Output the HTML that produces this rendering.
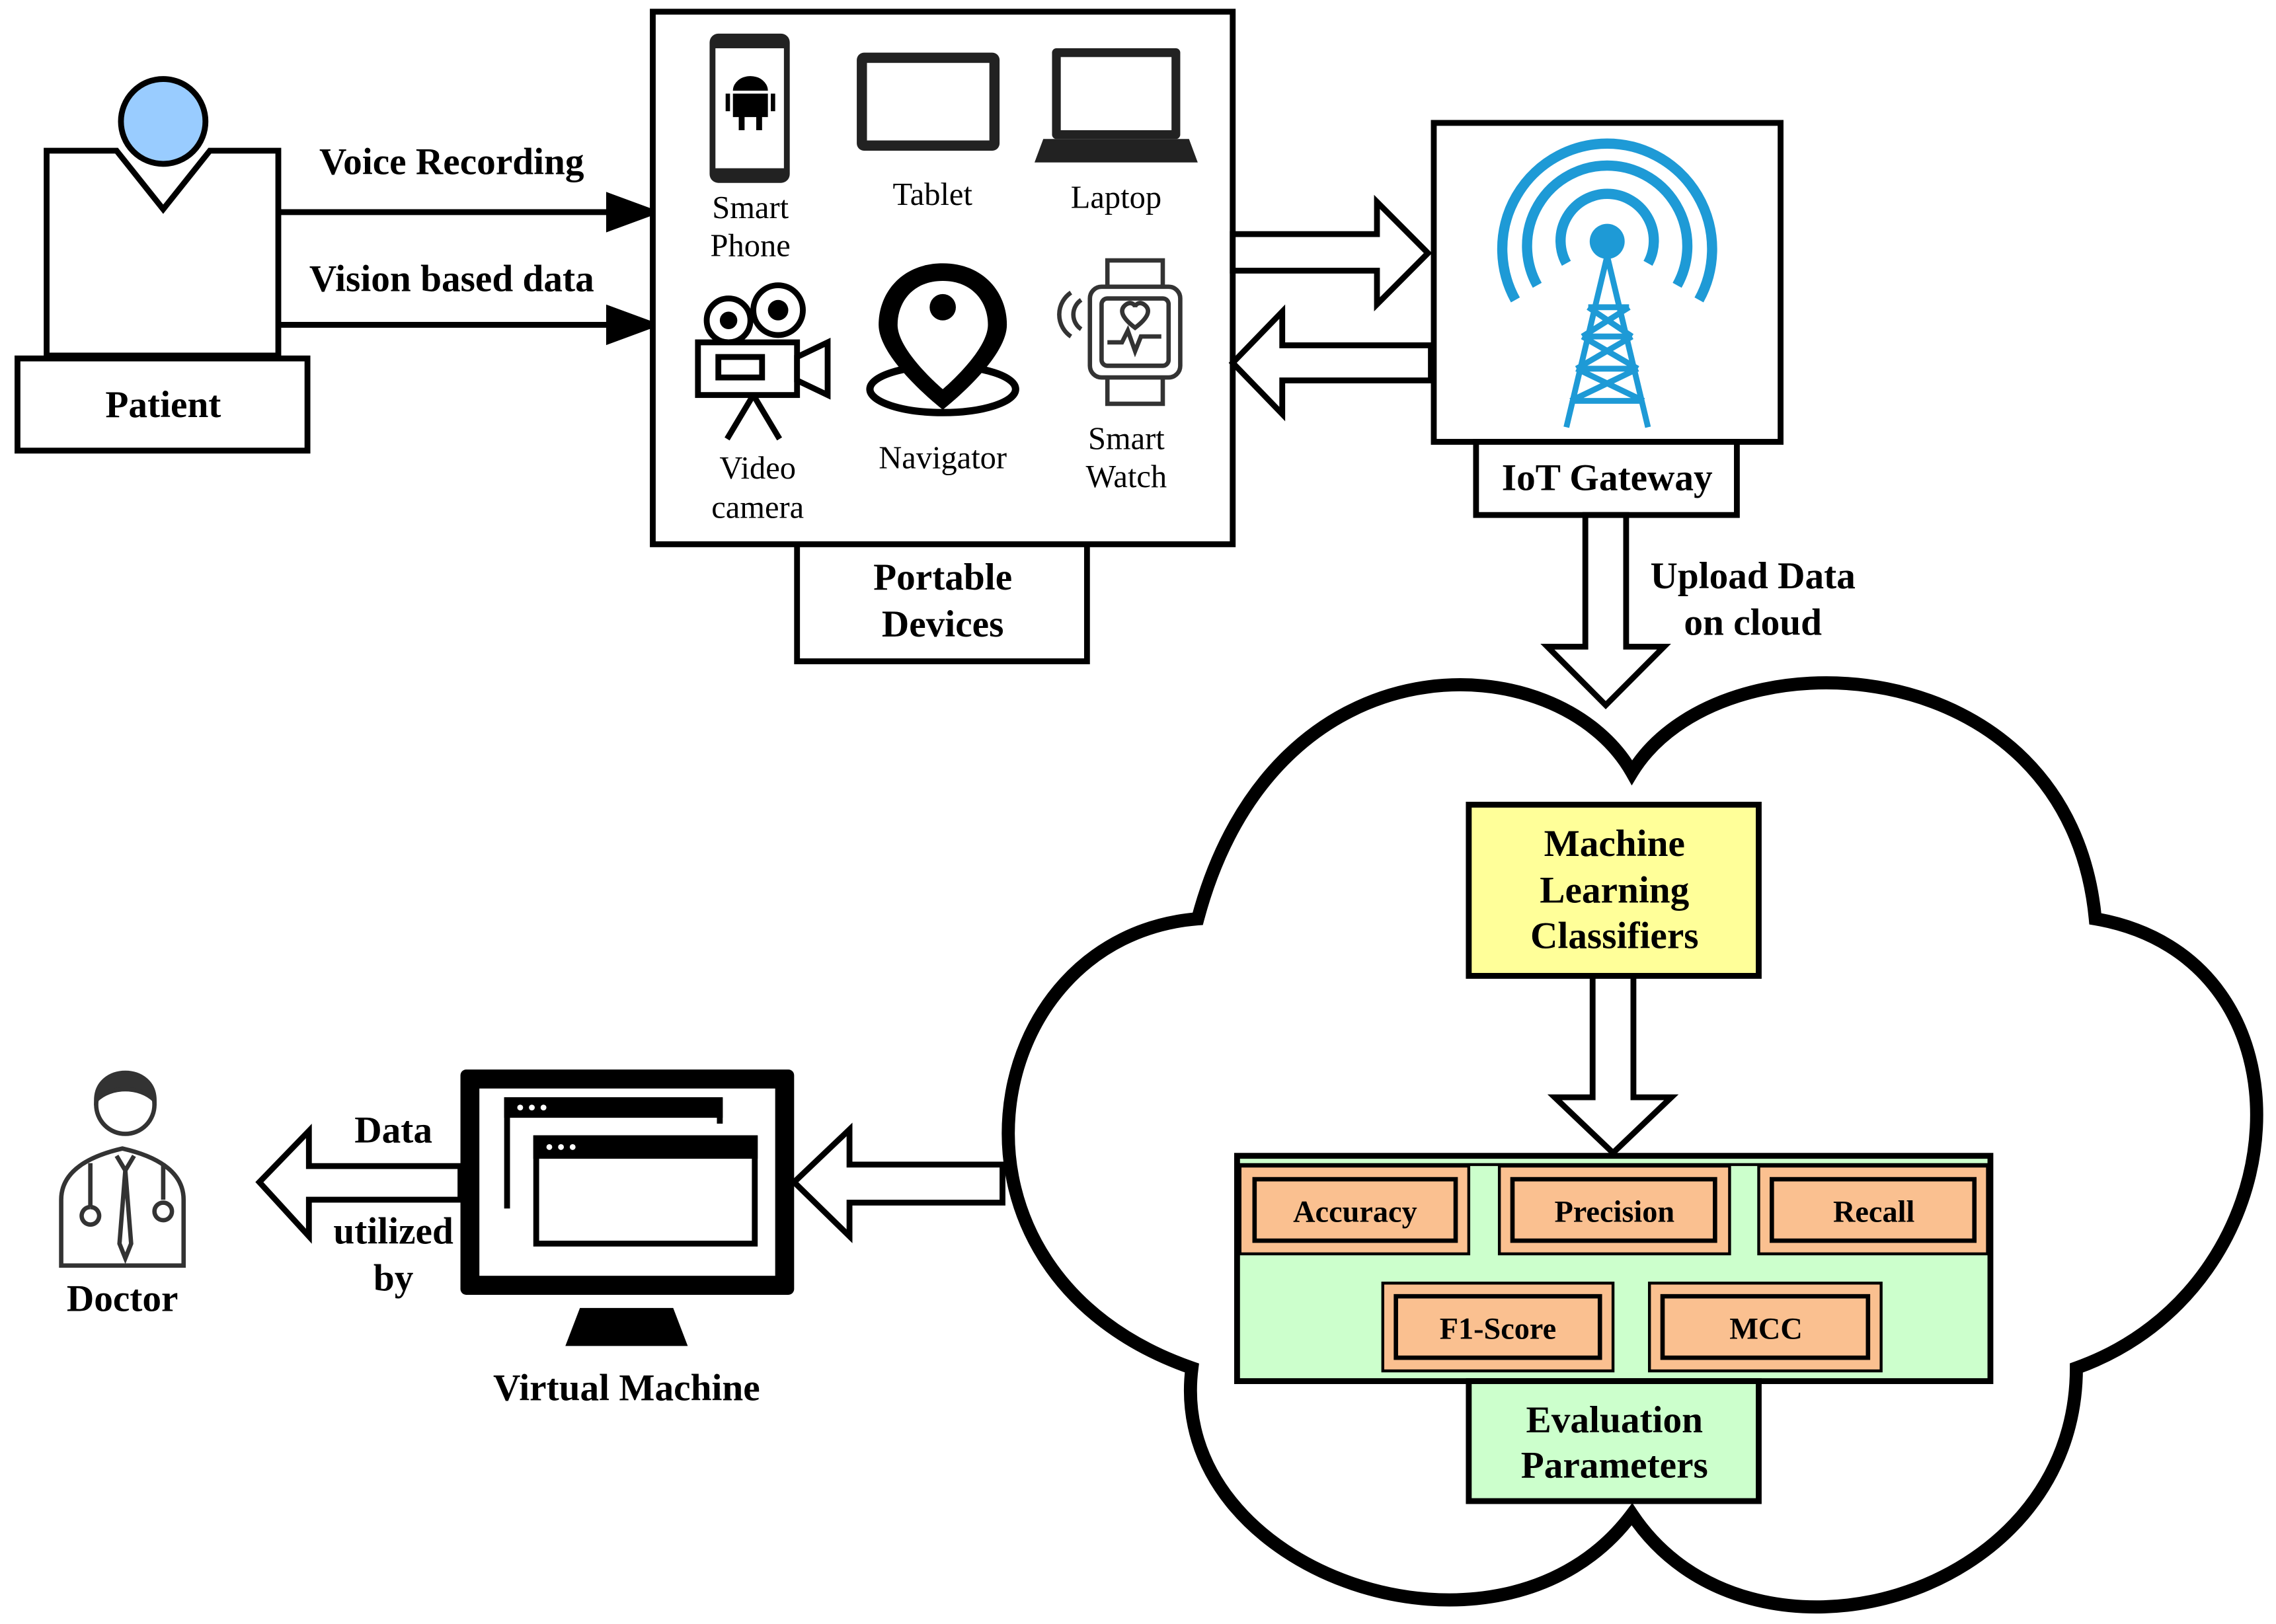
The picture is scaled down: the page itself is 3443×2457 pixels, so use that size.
<!DOCTYPE html>
<html><head><meta charset="utf-8"><style>
html,body{margin:0;padding:0;background:#fff}
svg{display:block}
text{font-family:"Liberation Serif",serif}
</style></head><body>
<svg width="3443" height="2457" viewBox="0 0 1562 1110" preserveAspectRatio="none" xmlns="http://www.w3.org/2000/svg">
<rect width="1562" height="1110" fill="#fff"/>
<g stroke="#000" stroke-width="4" fill="none">
<polygon points="32,103 80,103 112,143 144,103 191,103 191,243 32,243" fill="#fff"/>
<circle cx="112" cy="83" r="29" fill="#99ccff"/>
<rect x="12" y="245" width="199" height="63" fill="#fff"/>
<line x1="191" y1="145" x2="420" y2="145"/>
<polygon points="418,134 448,145 418,156" fill="#000"/>
<line x1="191" y1="222" x2="420" y2="222"/>
<polygon points="418,211 448,222 418,233" fill="#000"/>
<rect x="448" y="8" width="398" height="364" fill="#fff"/>
<rect x="547" y="372" width="199" height="80" fill="#fff"/>
<polygon points="846,160 945,160 945,138 980,173 945,208 945,185 846,185" fill="#fff"/>
<polygon points="982,236 880,236 880,213 846,248 880,283 880,260 982,260" fill="#fff"/>
<rect x="984" y="84" width="238" height="218" fill="#fff"/>
<rect x="1013" y="302" width="179" height="50" fill="#fff"/>
<polygon points="1088,352 1116,352 1116,442 1142,442 1102,482 1062,442 1088,442" fill="#fff"/>
<path d="M1120,528 C1070,440 875,430 822,628 C670,640 630,870 818,935 C800,1075 1030,1155 1120,1035 C1200,1155 1425,1095 1425,935 C1580,880 1595,655 1438,628 C1420,440 1180,430 1120,528 Z" stroke-width="9" fill="#fff"/>
<rect x="1008" y="550" width="199" height="117" fill="#ffff99"/>
<polygon points="1093,667 1121,667 1121,750 1147,750 1107,788 1067,750 1093,750" fill="#fff"/>
<rect x="849" y="790" width="517" height="154" fill="#ccffcc"/>
<line x1="849" y1="796" x2="1366" y2="796" stroke-width="2"/>
<g fill="#fac090" stroke-width="2">
<rect x="851" y="797" width="157" height="60"/><rect x="861" y="806" width="138" height="42" stroke-width="3"/>
<rect x="1029" y="797" width="158" height="60"/><rect x="1038" y="806" width="139" height="42" stroke-width="3"/>
<rect x="1207" y="797" width="157" height="60"/><rect x="1216" y="806" width="139" height="42" stroke-width="3"/>
<rect x="949" y="877" width="158" height="60"/><rect x="958" y="886" width="140" height="42" stroke-width="3"/>
<rect x="1132" y="877" width="159" height="60"/><rect x="1141" y="886" width="141" height="42" stroke-width="3"/>
</g>
<rect x="1008" y="944" width="199" height="82" fill="#ccffcc"/>
<polygon points="688,796 583,796 583,772 545,808 583,845 583,822 688,822" fill="#fff"/>
<polygon points="316,797 212,797 212,773 178,808 212,845 212,820 316,820" fill="#fff"/>
</g>
<rect x="316" y="731" width="229" height="154" rx="4" fill="#000"/>
<rect x="329" y="744" width="203" height="128" fill="#fff"/>
<g stroke="#000" stroke-width="4" fill="#fff">
<path d="M348,826 V752 H494 V768"/>
<rect x="368" y="778" width="150" height="72"/>
</g>
<rect x="346" y="750" width="150" height="14" fill="#000"/>
<rect x="366" y="776" width="154" height="16" fill="#000"/>
<g fill="#fff"><circle cx="357" cy="757" r="2"/><circle cx="365" cy="757" r="2"/><circle cx="373" cy="757" r="2"/><circle cx="377" cy="784" r="2"/><circle cx="385" cy="784" r="2"/><circle cx="393" cy="784" r="2"/></g>
<polygon points="398,894 462,894 472,920 388,920" fill="#000"/>
<rect x="487" y="23" width="55" height="102" rx="6" fill="#222"/>
<rect x="491" y="33" width="47" height="82" fill="#fff"/>
<path d="M503,62 a12,10 0 0 1 24,0z M503,64 h24 v16 h-24z M498,64 h3 v12 h-3z M529,64 h3 v12 h-3z M507,80 h4 v9 h-4z M519,80 h4 v9 h-4z" fill="#000"/>
<rect x="588" y="36" width="98" height="67" rx="5" fill="#222"/>
<rect x="595" y="43" width="84" height="53" fill="#fff"/>
<rect x="722" y="33" width="88" height="62" rx="3" fill="#222"/>
<rect x="728" y="39" width="76" height="50" fill="#fff"/>
<path d="M716,95 h100 l6,16 h-112z" fill="#222"/>
<g stroke="#000" stroke-width="4" fill="#fff">
<circle cx="500" cy="219" r="15"/><circle cx="534" cy="212" r="17"/>
<rect x="479" y="234" width="68" height="36"/>
<polygon points="547,244 568,234 568,270 547,260"/>
<rect x="493" y="244" width="30" height="14"/>
<path d="M517,270 l-18,30 M517,270 l18,30" fill="none"/>
</g>
<circle cx="500" cy="219" r="6"/><circle cx="534" cy="212" r="7"/>
<ellipse cx="647" cy="266" rx="50" ry="16" stroke="#000" stroke-width="5" fill="none"/>
<path d="M647,180 c-28,0 -44,20 -44,42 c0,24 44,58 44,58 c0,0 44,-34 44,-58 c0,-22 -16,-42 -44,-42z" fill="#000"/>
<path d="M647,192 c-20,0 -31,14 -31,30 c0,18 31,44 31,44 c0,0 31,-26 31,-44 c0,-16 -11,-30 -31,-30z" fill="#fff"/>
<circle cx="647" cy="210" r="9"/>
<g stroke="#333" stroke-width="3" fill="#fff">
<rect x="760" y="178" width="38" height="20"/><rect x="760" y="256" width="38" height="20"/>
<rect x="748" y="196" width="62" height="62" rx="8"/>
<rect x="756" y="204" width="46" height="46" rx="4"/>
<path d="M760,234 h10 l4,-8 l5,14 l4,-10 h14" fill="none"/>
<path d="M779,224 c-8,-6 -12,-12 -6,-16 c3,-2 6,0 6,2 c0,-2 3,-4 6,-2 c6,4 2,10 -6,16z"/>
<path d="M742,205 a12,12 0 0 0 0,20 M735,200 a18,18 0 0 0 0,30" fill="none"/>
</g>
<g stroke="#1e9ad6" fill="none">
<path d="M1055,195 A55,55 0 1 1 1151,195" stroke-width="7"/>
<path d="M1040,205 A72,72 0 1 1 1166,205" stroke-width="7"/>
<path d="M1075,180 A32,32 0 1 1 1131,180" stroke-width="7"/>
<path d="M1103,175 L1075,292 M1103,175 L1131,292 M1090,210 L1118,210 M1086,230 L1120,230 M1082,252 L1124,252 M1078,274 L1128,274 M1090,210 L1120,230 M1118,210 L1086,230 M1086,230 L1124,252 M1120,230 L1082,252 M1082,252 L1128,274 M1124,252 L1078,274" stroke-width="4"/>
</g>
<circle cx="1103" cy="165" r="12" fill="#1e9ad6"/>
<g stroke="#333" stroke-width="3" fill="#fff">
<path d="M42,865 v-45 c0,-20 20,-30 42,-35 c22,5 42,15 42,35 v45z"/>
<circle cx="86" cy="755" r="20"/>
<path d="M66,752 c0,-25 40,-25 40,0 c-10,-10 -30,-10 -40,0z" fill="#333"/>
<path d="M80,790 l6,10 l6,-10 M86,800 l-4,50 l4,10 l4,-10z"/>
<path d="M62,795 v30 m0,0 a6,6 0 1 0 0.1,0 M112,795 v25"/>
<circle cx="112" cy="828" r="6"/>
</g>
<g text-anchor="middle" font-size="26" font-weight="bold">
<text x="112" y="285">Patient</text>
<text x="310" y="119">Voice Recording</text>
<text x="310" y="199">Vision based data</text>
<text x="647" y="403">Portable</text><text x="647" y="435">Devices</text>
<text x="1103" y="335">IoT Gateway</text>
<text x="1203" y="402">Upload Data</text><text x="1203" y="434">on cloud</text>
<text x="1108" y="585">Machine</text><text x="1108" y="617">Learning</text><text x="1108" y="648">Classifiers</text>
<text x="1108" y="979">Evaluation</text><text x="1108" y="1010">Parameters</text>
<text x="430" y="957">Virtual Machine</text>
<text x="84" y="896">Doctor</text>
<text x="270" y="781">Data</text>
<text x="270" y="850">utilized</text><text x="270" y="882">by</text>
</g>
<g text-anchor="middle" font-size="21" font-weight="bold">
<text x="930" y="835">Accuracy</text>
<text x="1108" y="835">Precision</text>
<text x="1286" y="835">Recall</text>
<text x="1028" y="915">F1-Score</text>
<text x="1212" y="915">MCC</text>
</g>
<g text-anchor="middle" font-size="22">
<text x="515" y="149">Smart</text><text x="515" y="175">Phone</text>
<text x="640" y="140">Tablet</text>
<text x="766" y="142">Laptop</text>
<text x="520" y="327">Video</text><text x="520" y="354">camera</text>
<text x="647" y="320">Navigator</text>
<text x="773" y="307">Smart</text><text x="773" y="333">Watch</text>
</g>
</svg>
</body></html>
